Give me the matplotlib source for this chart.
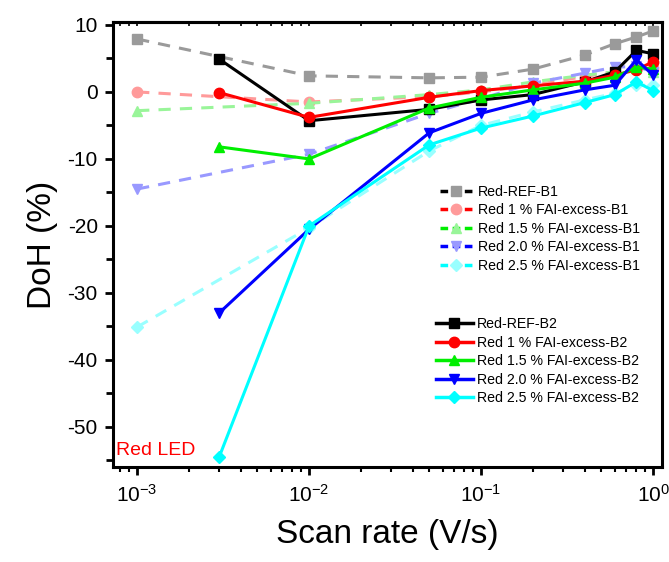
import matplotlib
matplotlib.use("Agg")
import matplotlib.pyplot as plt
from matplotlib.lines import Line2D

plt.rcParams['font.family'] = ['Liberation Sans', 'DejaVu Sans']
plt.rcParams['mathtext.fontset'] = 'custom'
plt.rcParams['mathtext.rm'] = 'Liberation Sans'
plt.rcParams['mathtext.it'] = 'Liberation Sans'
plt.rcParams['mathtext.default'] = 'regular'
plt.rcParams['axes.unicode_minus'] = False

# Data
x_b1 = [0.001, 0.01, 0.05, 0.1, 0.2, 0.4, 0.6, 0.8, 1.0]
x_b2 = [0.003, 0.01, 0.05, 0.1, 0.2, 0.4, 0.6, 0.8, 1.0]

labels_b1 = ["Red-REF-B1", "Red 1 % FAI-excess-B1", "Red 1.5 % FAI-excess-B1",
             "Red 2.0 % FAI-excess-B1", "Red 2.5 % FAI-excess-B1"]
labels_b2 = ["Red-REF-B2", "Red 1 % FAI-excess-B2", "Red 1.5 % FAI-excess-B2",
             "Red 2.0 % FAI-excess-B2", "Red 2.5 % FAI-excess-B2"]

ref_b1 = [7.9, 2.4, 2.1, 2.2, 3.4, 5.5, 7.2, 8.2, 9.1]
fai10_b1 = [0.0, -1.5, -0.7, 0.0, 1.0, 2.3, 3.0, 3.5, 3.5]
fai15_b1 = [-2.8, -1.7, -0.4, 0.3, 1.5, 2.5, 3.0, 3.5, 3.0]
fai20_b1 = [-14.5, -9.3, -3.2, -1.0, 1.3, 2.8, 3.7, 3.8, 3.0]
fai25_b1 = [-35.1, -20.3, -8.8, -5.0, -3.0, -1.2, -0.2, 1.0, 1.0]

ref_b2 = [4.9, -4.3, -2.6, -1.2, -0.4, 1.5, 3.0, 6.2, 5.7]
fai10_b2 = [-0.1, -3.8, -0.8, 0.2, 0.9, 1.6, 2.5, 3.3, 4.5]
fai15_b2 = [-8.2, -10.0, -2.4, -0.8, 0.3, 1.3, 2.2, 3.7, 3.4]
fai20_b2 = [-33.0, -20.5, -6.1, -3.2, -1.2, 0.3, 1.0, 4.8, 2.5]
fai25_b2 = [-54.5, -20.0, -7.9, -5.4, -3.6, -1.6, -0.4, 1.5, 0.2]

series_b1 = [ref_b1, fai10_b1, fai15_b1, fai20_b1, fai25_b1]
series_b2 = [ref_b2, fai10_b2, fai15_b2, fai20_b2, fai25_b2]

colors = ['#000000', '#ff0000', '#00ee00', '#0000ff', '#00ffff']
light = ['#9a9a9a', '#ff9a9a', '#99f599', '#9999ff', '#99ffff']
markers = ['s', 'o', '^', 'v', 'D']
msizes = [6.5, 7.5, 7.5, 7.5, 6]

fig = plt.figure(figsize=(6.69, 5.62), dpi=100)
ax = fig.add_axes([0.169, 0.169, 0.8205, 0.792])

for ys, c, m, ms in zip(series_b1, light, markers, msizes):
    ax.plot(x_b1, ys, linestyle=(0, (4, 3)), color=c, lw=2.2, marker=m,
            ms=ms, mec=c, mfc=c, zorder=2)
for ys, c, m, ms in zip(series_b2, colors, markers, msizes):
    ax.plot(x_b2, ys, linestyle='-', color=c, lw=2.2, marker=m,
            ms=ms, mec=c, mfc=c, zorder=3)

ax.set_xscale('log')
ax.set_xlim(10 ** -3.14, 1.127)
ax.set_ylim(-56, 10.45)
ax.set_yticks([-50, -40, -30, -20, -10, 0, 10])
ax.set_yticks([-55, -45, -35, -25, -15, -5, 5], minor=True)

for s in ax.spines.values():
    s.set_linewidth(2.2)
ax.tick_params(axis='both', which='major', labelsize=15, width=2, length=6)
ax.tick_params(axis='x', which='major', direction='out', top=False, pad=6)
ax.tick_params(axis='x', which='minor', direction='out', width=1.5, length=3.5, top=False)
ax.tick_params(axis='y', which='major', pad=5)
ax.tick_params(axis='y', which='minor', direction='out', width=2, length=5)
ax.tick_params(axis='y', which='both', right=False)

sec = ax.secondary_xaxis('top')
sec.tick_params(axis='x', which='both', direction='in', length=3, width=1.2,
                labeltop=False, labelbottom=False)
sec.spines['top'].set_linewidth(2.2)

ax.set_xlabel('Scan rate (V/s)', fontsize=24, labelpad=10)
ax.set_ylabel('DoH (%)', fontsize=24, labelpad=7)

ax.text(0.006, 0.018, 'Red LED', color='#ff0000', fontsize=14,
        transform=ax.transAxes, ha='left', va='bottom')

h1 = [Line2D([], [], color=c, lw=2.5, linestyle=(0, (2.2, 1.3)), marker=m, ms=ms,
             mfc=lc, mec=lc) for c, lc, m, ms in zip(colors, light, markers, msizes)]
h2 = [Line2D([], [], color=c, lw=2.5, linestyle='-', marker=m, ms=ms,
             mfc=c, mec=c) for c, m, ms in zip(colors, markers, msizes)]

leg1 = ax.legend(h1, labels_b1, loc='upper left', bbox_to_anchor=(0.595, 0.634),
                 frameon=False, fontsize=10.2, handlelength=2.3, handletextpad=0.4,
                 labelspacing=0.32, borderpad=0, borderaxespad=0)
ax.add_artist(leg1)
ax.legend(h2, labels_b2, loc='upper left', bbox_to_anchor=(0.588, 0.337),
          frameon=False, fontsize=10.2, handlelength=2.6, handletextpad=0.3,
          labelspacing=0.32, borderpad=0, borderaxespad=0)

fig.savefig('out.png', dpi=100)
